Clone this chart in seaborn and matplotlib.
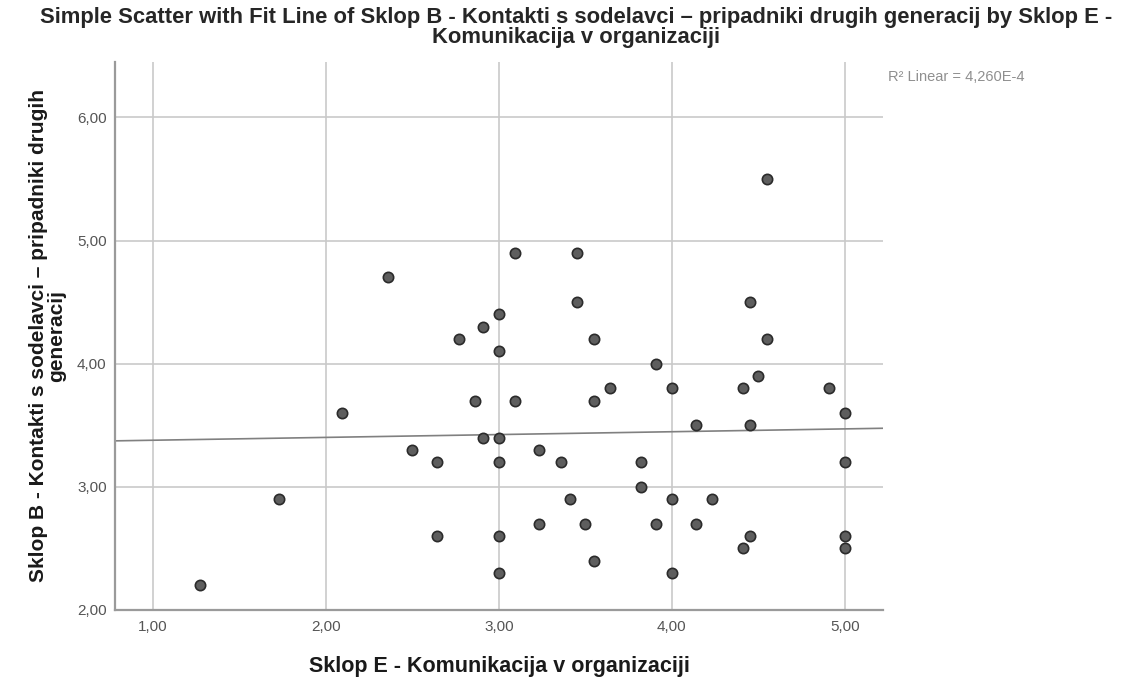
import matplotlib

matplotlib.use("Agg")
import matplotlib.pyplot as plt
from matplotlib.ticker import FuncFormatter
import pandas as pd
import seaborn as sns

# Sklop E (x) / Sklop B (y), odčitano s slike
komunikacija = [
    1.27, 1.73, 2.09, 2.36, 2.50, 2.64, 2.64, 2.77, 2.86, 2.91, 2.91,
    3.00, 3.00, 3.00, 3.00, 3.00, 3.00, 3.09, 3.09, 3.23, 3.23, 3.36,
    3.41, 3.45, 3.45, 3.50, 3.55, 3.55, 3.55, 3.64, 3.82, 3.82, 3.91,
    3.91, 4.00, 4.00, 4.00, 4.14, 4.14, 4.23, 4.41, 4.41, 4.45, 4.45,
    4.45, 4.50, 4.55, 4.55, 4.91, 5.00, 5.00, 5.00, 5.00,
]
kontakti = [
    2.2, 2.9, 3.6, 4.7, 3.3, 3.2, 2.6, 4.2, 3.7, 4.3, 3.4,
    4.4, 4.1, 3.4, 3.2, 2.6, 2.3, 4.9, 3.7, 3.3, 2.7, 3.2,
    2.9, 4.9, 4.5, 2.7, 4.2, 3.7, 2.4, 3.8, 3.2, 3.0, 4.0,
    2.7, 3.8, 2.9, 2.3, 3.5, 2.7, 2.9, 3.8, 2.5, 4.5, 3.5,
    2.6, 3.9, 5.5, 4.2, 3.8, 3.6, 3.2, 2.6, 2.5,
]
x_ticks = [1, 2, 3, 4, 5]
y_ticks = [2, 3, 4, 5, 6]

naslov = (
    "Simple Scatter with Fit Line of Sklop B - Kontakti s sodelavci \u2013 "
    "pripadniki drugih generacij by Sklop E -\nKomunikacija v organizaciji"
)
x_oznaka = "Sklop E - Komunikacija v organizaciji"
y_oznaka = "Sklop B - Kontakti s sodelavci \u2013 pripadniki drugih\ngeneracij"
r2_oznaka = "R\u00b2 Linear = 4,260E-4"

df = pd.DataFrame({"x": komunikacija, "y": kontakti})

sns.set_theme(style="whitegrid")
plt.rcParams["font.family"] = ["Liberation Sans", "DejaVu Sans"]

fig = plt.figure(figsize=(11.34, 6.82), dpi=100)
ax = fig.add_axes([0.1014, 0.1056, 0.6772, 0.8035])

# meje najprej, da se premica razteza čez celo os
ax.set_xlim(0.78, 5.22)
ax.set_ylim(2.0, 6.45)

sns.regplot(
    data=df,
    x="x",
    y="y",
    ax=ax,
    ci=None,
    truncate=False,
    scatter_kws={
        "s": 55,
        "color": "#5e5e5e",
        "edgecolor": "#2b2b2b",
        "linewidths": 1.2,
        "alpha": 1,
        "zorder": 3,
    },
    line_kws={"color": "#808080", "linewidth": 1.2, "zorder": 2},
)

ax.set_xlim(0.78, 5.22)
ax.set_ylim(2.0, 6.45)
ax.set_xticks(x_ticks)
ax.set_yticks(y_ticks)
fmt = FuncFormatter(lambda v, _: f"{v:.2f}".replace(".", ","))
ax.xaxis.set_major_formatter(fmt)
ax.yaxis.set_major_formatter(fmt)

ax.grid(True, color="#c9c9c9", linewidth=1.2)
for side in ["top", "right"]:
    ax.spines[side].set_visible(False)
for side in ["left", "bottom"]:
    ax.spines[side].set_color("#9a9a9a")
    ax.spines[side].set_linewidth(1.6)
ax.tick_params(axis="both", length=0, labelsize=11, colors="#555555")
ax.tick_params(axis="x", pad=7)
ax.tick_params(axis="y", pad=6)

ax.set_xlabel(x_oznaka, fontsize=15.5, fontweight="bold", labelpad=16,
              color="#1a1a1a")
ax.set_ylabel(y_oznaka, fontsize=15, fontweight="bold", labelpad=8,
              color="#1a1a1a", linespacing=0.95)

fig.text(
    0.508, 0.99, naslov,
    ha="center", va="top", fontsize=15.8, fontweight="bold",
    multialignment="center", linespacing=0.92,
)
fig.text(888 / 1134, 1 - 77 / 682, r2_oznaka, ha="left", va="center",
         fontsize=10.5, color="#8f8f8f")

fig.savefig("out.png", dpi=100)
